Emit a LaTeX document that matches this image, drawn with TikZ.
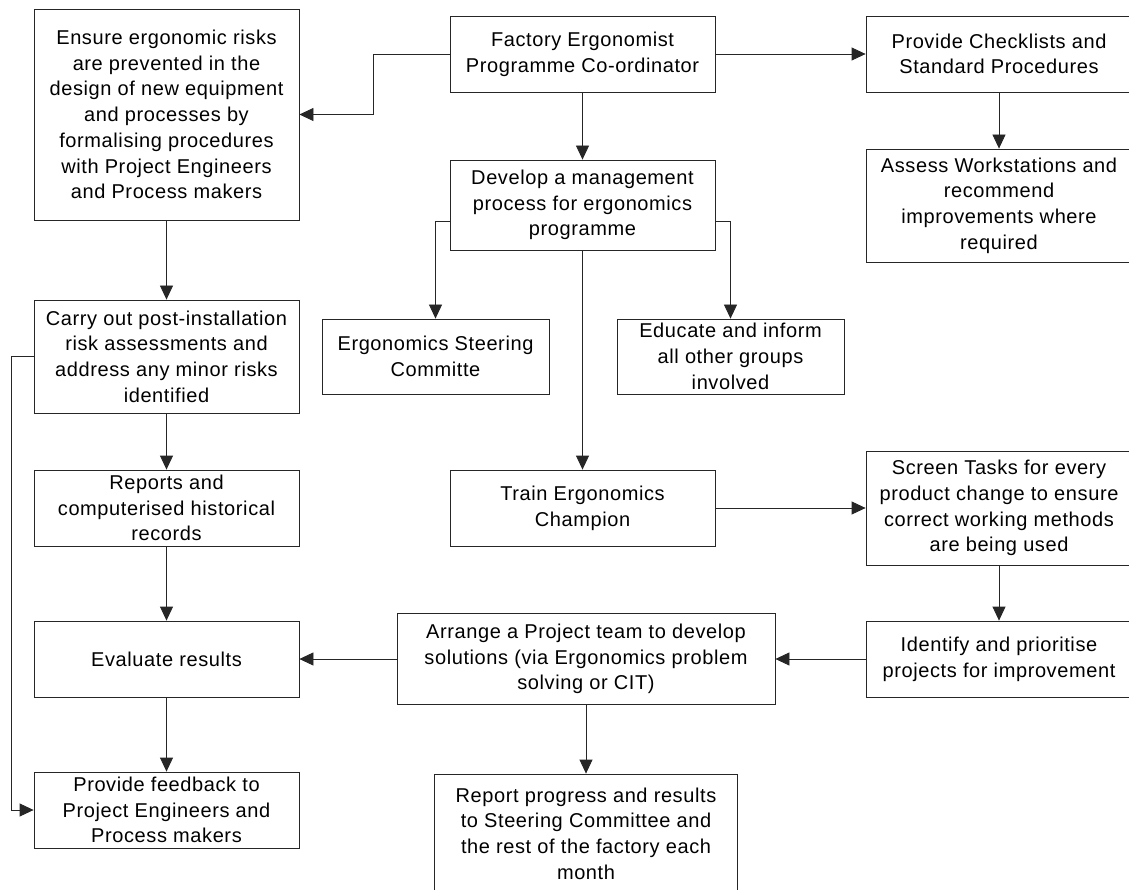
\documentclass[tikz,border=0pt]{standalone}
\usepackage{fontspec}
\setmainfont{Liberation Sans}[LetterSpace=3]
\usetikzlibrary{arrows.meta}
\begin{document}
\begin{tikzpicture}[x=1pt,y=-1pt,
  box/.style={draw=black!85, line width=0.8pt, fill=white, inner sep=0pt,
    align=center, font=\fontsize{20}{25.7}\selectfont},
  arr/.style={draw=black!85, line width=0.8pt, -{Triangle[length=14pt,width=13pt]}},
  lnk/.style={draw=black!85, line width=0.8pt}]
\useasboundingbox (0,0) rectangle (1129,890);
\clip (0,0) rectangle (1129,890);

% left column
\node[box, minimum width=265pt, minimum height=211pt] (A) at (166.5,114.5)
  {Ensure ergonomic risks\\are prevented in the\\design of new equipment\\and processes by\\formalising procedures\\with Project Engineers\\and Process makers};
\node[box, minimum width=265pt, minimum height=113pt] (C) at (166.5,356.5)
  {Carry out post-installation\\risk assessments and\\address any minor risks\\identified};
\node[box, minimum width=265pt, minimum height=76pt] (R) at (166.5,508)
  {Reports and\\computerised historical\\records};
\node[box, minimum width=265pt, minimum height=76pt] (Ev) at (166.5,659)
  {Evaluate results};
\node[box, minimum width=265pt, minimum height=76pt] (Fb) at (166.5,810)
  {Provide feedback to\\Project Engineers and\\Process makers};

% centre column
\node[box, minimum width=265pt, minimum height=76pt] (F) at (582.5,54)
  {Factory Ergonomist\\Programme Co-ordinator};
\node[box, minimum width=265pt, minimum height=90pt] (D) at (582.5,205)
  {Develop a management\\process for ergonomics\\programme};
\node[box, minimum width=227pt, minimum height=75pt] (S) at (435.5,356.5)
  {Ergonomics Steering\\Committe};
\node[box, minimum width=227pt, minimum height=75pt] (E) at (730.5,356.5)
  {Educate and inform\\all other groups\\involved};
\node[box, minimum width=265pt, minimum height=76pt] (T) at (582.5,508)
  {Train Ergonomics\\Champion};
\node[box, minimum width=378pt, minimum height=91pt] (Ar) at (586,659)
  {Arrange a Project team to develop\\solutions (via Ergonomics problem\\solving or CIT)};
\node[box, minimum width=303pt, minimum height=119pt] (Rp) at (586,833.5)
  {Report progress and results\\to Steering Committee and\\the rest of the factory each\\month};

% right column
\node[box, minimum width=266pt, minimum height=76pt] (P) at (999,54)
  {Provide Checklists and\\Standard Procedures};
\node[box, minimum width=266pt, minimum height=113pt] (W) at (999,205.5)
  {Assess Workstations and\\recommend\\improvements where\\required};
\node[box, minimum width=266pt, minimum height=114pt] (Sc) at (999,508)
  {Screen Tasks for every\\product change to ensure\\correct working methods\\are being used};
\node[box, minimum width=266pt, minimum height=76pt] (I) at (999,659)
  {Identify and prioritise\\projects for improvement};

% connectors
\draw[arr] (F.west) -- ++(-76,0) |- (A.east);
\draw[arr] (F.east) -- (P.west);
\draw[arr] (F.south) -- (D.north);
\draw[arr] (P.south) -- (W.north);
\draw[arr] ([yshift=-16pt]D.west) -| (S.north);
\draw[arr] ([yshift=-16pt]D.east) -| (E.north);
\draw[arr] (D.south) -- (T.north);
\draw[arr] (A.south) -- (C.north);
\draw[arr] (C.south) -- (R.north);
\draw[arr] (R.south) -- (Ev.north);
\draw[arr] (Ev.south) -- (Fb.north);
\draw[arr] (C.west) -- ++(-22,0) |- (Fb.west);
\draw[arr] (T.east) -- (Sc.west);
\draw[arr] (Sc.south) -- (I.north);
\draw[arr] (I.west) -- (Ar.east);
\draw[arr] (Ar.west) -- (Ev.east);
\draw[arr] (Ar.south) -- (Rp.north);
\end{tikzpicture}
\end{document}
